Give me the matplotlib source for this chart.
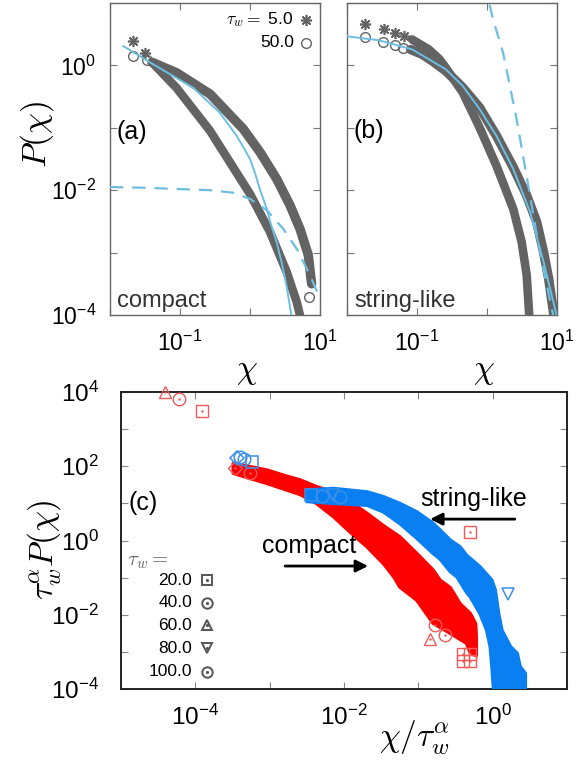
import numpy as np
import matplotlib
matplotlib.use("Agg")
import matplotlib.pyplot as plt
from matplotlib.ticker import FixedLocator, LogFormatterMathtext, NullFormatter

plt.rcParams["font.family"] = ["Liberation Sans", "DejaVu Sans"]
plt.rcParams["mathtext.fontset"] = "cm"

# all values below as log10 (x, y)

# ---- panel (a): compact ----
a_tw5_mark_lx = [-1.667, -1.50]
a_tw5_mark_ly = [0.39, 0.20]
a_tw5_lx = [-1.40, -1.05, -0.57, 0.0, 0.286, 0.524, 0.667, 0.724]
a_tw5_ly = [0.05, -0.36, -1.05, -2.06, -2.67, -3.31, -3.79, -4.05]
a_tw50_mark_lx = [-1.667, -1.476, 0.848]
a_tw50_mark_ly = [0.15, 0.085, -3.71]
a_tw50_lx = [-1.40, -1.05, -0.57, -0.095, 0.143, 0.381, 0.571, 0.714, 0.833, 0.88]
a_tw50_ly = [0.05, -0.117, -0.46, -1.02, -1.39, -1.82, -2.24, -2.62, -3.04, -3.50]
a_fit_lx = [-1.81, -1.38, -0.81, -0.43, -0.19, -0.10, 0.0, 0.07, 0.14, 0.24, 0.30, 0.38, 0.45, 0.52, 0.595]
a_fit_ly = [0.31, 0.016, -0.36, -0.76, -1.13, -1.30, -1.50, -1.72, -1.98, -2.30, -2.55, -2.83, -3.15, -3.52, -4.03]
a_dash_lx = [-2.0, -1.52, -1.05, -0.571, -0.24, 0.0, 0.24, 0.476, 0.667, 0.857, 0.976]
a_dash_ly = [-1.95, -1.96, -1.98, -2.0, -2.04, -2.14, -2.32, -2.62, -2.94, -3.36, -3.68]

# ---- panel (b): string-like ----
b_tw5_mark_lx = [-1.74, -1.476, -1.317, -1.19]
b_tw5_mark_ly = [0.67, 0.585, 0.52, 0.47]
b_tw5_lx = [-1.07, -0.83, -0.68, -0.587, -0.346, -0.106, 0.135, 0.375, 0.495, 0.567, 0.606]
b_tw5_ly = [0.415, 0.255, 0.10, -0.04, -0.436, -0.995, -1.61, -2.30, -2.83, -3.36, -4.05]
b_tw50_mark_lx = [-1.75, -1.486, -1.317, -1.20]
b_tw50_mark_ly = [0.452, 0.372, 0.324, 0.282]
b_tw50_lx = [-1.09, -0.923, -0.78, -0.587, -0.346, -0.106, 0.135, 0.375, 0.567, 0.71, 0.808, 0.88, 0.928, 0.962]
b_tw50_ly = [0.255, 0.176, 0.07, -0.09, -0.356, -0.676, -1.128, -1.633, -2.085, -2.51, -2.99, -3.41, -3.79, -4.05]
b_fit_lx = [-2.03, -1.55, -1.067, -0.587, -0.346, -0.106, 0.135, 0.375, 0.615, 0.808, 1.0]
b_fit_ly = [0.47, 0.404, 0.255, -0.064, -0.33, -0.70, -1.13, -1.66, -2.35, -3.15, -4.03]
b_dash_lx = [0.038, 0.087, 0.159, 0.23, 0.327, 0.423, 0.59, 0.712, 0.808, 0.904, 0.952]
b_dash_ly = [0.973, 0.734, 0.468, 0.20, -0.33, -0.86, -1.93, -2.72, -3.26, -3.79, -4.03]

# ---- panel (c): scaled distributions ----
red_up_lx = [-3.49, -3.04, -2.80, -2.59, -2.37, -2.14, -1.92, -1.69, -1.47, -1.25, -1.02, -0.80, -0.707, -0.57, -0.44, -0.30, -0.23, -0.22]
red_up_ly = [2.08, 1.90, 1.75, 1.63, 1.45, 1.30, 1.05, 0.73, 0.40, 0.10, -0.35, -0.80, -1.07, -1.27, -1.70, -1.97, -2.24, -2.60]
red_lo_lx = [-3.49, -3.04, -2.59, -2.37, -2.14, -1.92, -1.69, -1.47, -1.33, -1.25, -1.02, -0.80, -0.57, -0.35, -0.30, -0.22]
red_lo_ly = [1.81, 1.54, 1.24, 1.00, 0.64, 0.23, -0.17, -0.62, -0.98, -1.25, -1.61, -2.23, -2.50, -2.77, -3.04, -3.10]
blue_up_lx = [-2.50, -2.14, -1.69, -1.47, -1.25, -1.02, -0.80, -0.707, -0.57, -0.44, -0.35, -0.17, -0.01, 0.035, 0.08, 0.125, 0.24, 0.33, 0.37, 0.44, 0.44]
blue_up_ly = [1.36, 1.40, 1.31, 1.18, 1.00, 0.77, 0.46, 0.28, 0.01, -0.17, -0.40, -0.71, -1.07, -1.34, -1.97, -2.42, -2.86, -3.04, -3.40, -3.58, -4.05]
blue_lo_lx = [-2.50, -2.14, -1.69, -1.47, -1.25, -1.02, -0.80, -0.707, -0.57, -0.48, -0.35, -0.30, -0.17, -0.08, -0.033, -0.01, 0.013]
blue_lo_ly = [1.05, 1.00, 0.95, 0.77, 0.46, 0.06, -0.35, -0.50, -0.84, -0.98, -1.40, -1.52, -1.97, -2.42, -2.86, -3.40, -4.05]

# scattered points, red = compact, blue = string-like
red_pts_lx = [-4.41, -4.22, -3.91, -3.47, -3.26, -0.30, -0.84, -0.64, -0.77, -0.40, -0.30, -0.40, -0.30]
red_pts_ly = [4.01, 3.80, 3.50, 1.94, 1.81, 0.23, -2.64, -2.55, -2.28, -3.05, -3.05, -3.25, -3.25]
red_pts_m = ["^", "o", "s", "D", "o", "s", "^", "o", "o", "s", "s", "s", "s"]
blue_pts_lx = [-3.44, -3.40, -3.35, -3.24, -2.45, -2.30, -2.15, -2.05, 0.21]
blue_pts_ly = [2.21, 2.26, 2.19, 2.12, 1.22, 1.20, 1.22, 1.18, -1.43]
blue_pts_m = ["D", "o", "o", "s", "s", "o", "v", "o", "v"]

tau_a = ["5.0", "50.0"]
tau_c = ["20.0", "40.0", "60.0", "80.0", "100.0"]
tau_c_markers = ["s", "o", "^", "v", "o"]

GREY = "#636363"
FIT = "#6cbfe2"
RED = "#ff0000"
BLUE = "#0a7ff2"


def p10(v):
    return 10.0 ** np.asarray(v)


def style_top_axis(ax):
    ax.set_xscale("log")
    ax.set_yscale("log")
    ax.set_xlim(1e-2, 1e1)
    ax.set_ylim(1e-4, 1e1)
    ax.xaxis.set_major_locator(FixedLocator([1e-1, 1e1]))
    ax.xaxis.set_minor_locator(FixedLocator([1e-2, 1e0]))
    ax.yaxis.set_major_locator(FixedLocator([1e-4, 1e-2, 1e0]))
    ax.yaxis.set_minor_locator(FixedLocator([1e-3, 1e-1, 1e1]))
    ax.xaxis.set_major_formatter(LogFormatterMathtext())
    ax.yaxis.set_major_formatter(LogFormatterMathtext())
    ax.xaxis.set_minor_formatter(NullFormatter())
    ax.yaxis.set_minor_formatter(NullFormatter())
    ax.tick_params(which="both", direction="in", top=True, right=True,
                   length=5, width=0.8, color="#777777", labelsize=16.5)
    ax.tick_params(axis="y", pad=10)
    ax.tick_params(axis="x", pad=11)
    for s in ax.spines.values():
        s.set_color("#666666")
        s.set_linewidth(1.0)
    ax.set_xlabel(r"$\chi$", fontsize=24)
    ax.xaxis.set_label_coords(0.65, -0.13)


def draw_top(ax, t5_mx, t5_my, t5_x, t5_y, t50_mx, t50_my, t50_x, t50_y,
             fx, fy, dx, dy):
    ax.plot(p10(dx), p10(dy), color=FIT, lw=1.6, ls=(0, (6, 4)), zorder=4)
    ax.plot(p10(t5_x), p10(t5_y), color=GREY, lw=6.2, solid_capstyle="round",
            solid_joinstyle="round", zorder=2)
    ax.plot(p10(t50_x), p10(t50_y), color=GREY, lw=6.8, solid_capstyle="round",
            solid_joinstyle="round", zorder=2)
    ax.plot(p10(t5_mx), p10(t5_my), ls="none", marker=(8, 2, 0), ms=8,
            mec=GREY, mew=1.2, zorder=3)
    ax.plot(p10(t50_mx), p10(t50_my), ls="none", marker="o", ms=7,
            mfc="none", mec=GREY, mew=1.0, zorder=3)
    ax.plot(p10(fx), p10(fy), color=FIT, lw=1.4, zorder=5)


fig = plt.figure(figsize=(5.8, 7.61), dpi=100)

# panel (a)
ax_a = fig.add_axes([110 / 580, 1 - 315 / 761, 210 / 580, 312 / 761])
style_top_axis(ax_a)
draw_top(ax_a, a_tw5_mark_lx, a_tw5_mark_ly, a_tw5_lx, a_tw5_ly,
         a_tw50_mark_lx, a_tw50_mark_ly, a_tw50_lx, a_tw50_ly,
         a_fit_lx, a_fit_ly, a_dash_lx, a_dash_ly)
ax_a.set_ylabel(r"$P(\chi)$", fontsize=24)
ax_a.yaxis.set_label_coords(-0.255, 0.58)
ax_a.text(0.033, 0.586, "(a)", transform=ax_a.transAxes, fontsize=18,
          va="center", ha="left")
ax_a.text(0.033, 0.025, "compact", transform=ax_a.transAxes, fontsize=17,
          color="#333333", va="baseline", ha="left")
ax_a.text(0.875, 0.946, r"$\tau_w =$ " + tau_a[0], transform=ax_a.transAxes,
          fontsize=12.5, ha="right", va="center")
ax_a.text(0.875, 0.873, tau_a[1], transform=ax_a.transAxes,
          fontsize=12.5, ha="right", va="center")
ax_a.plot([0.935], [0.946], transform=ax_a.transAxes, marker=(8, 2, 0), ms=8,
          mec=GREY, mew=1.2, ls="none")
ax_a.plot([0.935], [0.873], transform=ax_a.transAxes, marker="o", ms=7,
          mfc="none", mec=GREY, mew=1.0, ls="none")

# panel (b)
ax_b = fig.add_axes([347 / 580, 1 - 315 / 761, 210 / 580, 312 / 761])
style_top_axis(ax_b)
ax_b.tick_params(axis="y", labelleft=False)
draw_top(ax_b, b_tw5_mark_lx, b_tw5_mark_ly, b_tw5_lx, b_tw5_ly,
         b_tw50_mark_lx, b_tw50_mark_ly, b_tw50_lx, b_tw50_ly,
         b_fit_lx, b_fit_ly, b_dash_lx, b_dash_ly)
ax_b.text(0.033, 0.589, "(b)", transform=ax_b.transAxes, fontsize=18,
          va="center", ha="left")
ax_b.text(0.033, 0.025, "string-like", transform=ax_b.transAxes, fontsize=17,
          color="#333333", va="baseline", ha="left")

# panel (c)
ax_c = fig.add_axes([121 / 580, 1 - 689 / 761, 446 / 580, 297 / 761])
ax_c.set_xscale("log")
ax_c.set_yscale("log")
ax_c.set_xlim(1e-5, 1e1)
ax_c.set_ylim(1e-4, 1e4)

red_poly_x = np.concatenate([p10(red_up_lx), p10(red_lo_lx)[::-1]])
red_poly_y = np.concatenate([p10(red_up_ly), p10(red_lo_ly)[::-1]])
ax_c.fill(red_poly_x, red_poly_y, color=RED, lw=2.5, ec=RED,
          joinstyle="round", zorder=2)
blue_poly_x = np.concatenate([p10(blue_up_lx), p10(blue_lo_lx)[::-1]])
blue_poly_y = np.concatenate([p10(blue_up_ly), p10(blue_lo_ly)[::-1]])
ax_c.fill(blue_poly_x, blue_poly_y, color=BLUE, lw=2.5, ec=BLUE,
          joinstyle="round", zorder=3)

for lx, ly, m in zip(red_pts_lx, red_pts_ly, red_pts_m):
    ax_c.plot(p10(lx), p10(ly), marker=m, ms=9 if m != "D" else 7, mfc="none",
              mec="#f05a5a", mew=1.0, ls="none", zorder=4, clip_on=False)
    ax_c.plot(p10(lx), p10(ly), marker=".", ms=1.5, color="#f05a5a",
              ls="none", zorder=4, clip_on=False)
for lx, ly, m in zip(blue_pts_lx, blue_pts_ly, blue_pts_m):
    ax_c.plot(p10(lx), p10(ly), marker=m, ms=9 if m != "D" else 7, mfc="none",
              mec="#3b8fe8", mew=1.1, ls="none", zorder=5)

ax_c.xaxis.set_major_locator(FixedLocator([1e-4, 1e-2, 1e0]))
ax_c.xaxis.set_minor_locator(FixedLocator([1e-5, 1e-3, 1e-1, 1e1]))
ax_c.yaxis.set_major_locator(FixedLocator([1e-4, 1e-2, 1e0, 1e2, 1e4]))
ax_c.yaxis.set_minor_locator(FixedLocator([1e-3, 1e-1, 1e1, 1e3]))
ax_c.xaxis.set_major_formatter(LogFormatterMathtext())
ax_c.yaxis.set_major_formatter(LogFormatterMathtext())
ax_c.xaxis.set_minor_formatter(NullFormatter())
ax_c.yaxis.set_minor_formatter(NullFormatter())
ax_c.tick_params(which="both", direction="in", top=True, right=True,
                 length=5, width=0.8, color="#888888", labelsize=17.5)
ax_c.tick_params(axis="y", pad=16)
ax_c.tick_params(axis="x", pad=11)
for s in ax_c.spines.values():
    s.set_color("#222222")
    s.set_linewidth(1.4)

ax_c.set_xlabel(r"$\chi/\tau_w^\alpha$", fontsize=24)
ax_c.xaxis.set_label_coords(0.657, -0.10)
ax_c.set_ylabel(r"$\tau_w^\alpha P(\chi)$", fontsize=24)
ax_c.yaxis.set_label_coords(-0.128, 0.468)

ax_c.text(0.016, 0.626, "(c)", transform=ax_c.transAxes, fontsize=18,
          va="center", ha="left")
ax_c.text(0.316, 0.458, "compact", transform=ax_c.transAxes, fontsize=18,
          va="baseline", ha="left")
ax_c.text(0.670, 0.616, "string-like", transform=ax_c.transAxes, fontsize=18,
          va="baseline", ha="left")
ax_c.annotate("", xy=(0.554, 0.414), xytext=(0.368, 0.414),
              xycoords="axes fraction",
              arrowprops=dict(arrowstyle="-|>", color="black", lw=2,
                              mutation_scale=18, shrinkA=0, shrinkB=0))
ax_c.annotate("", xy=(0.693, 0.572), xytext=(0.883, 0.572),
              xycoords="axes fraction",
              arrowprops=dict(arrowstyle="-|>", color="black", lw=2,
                              mutation_scale=18, shrinkA=0, shrinkB=0))

# tau_w key
ax_c.text(0.013, 0.428, r"$\tau_w =$", transform=ax_c.transAxes, fontsize=15,
          color="#666666", va="center", ha="left")
key_y = [0.367, 0.291, 0.215, 0.137, 0.058]
for lab, m, yy in zip(tau_c, tau_c_markers, key_y):
    ax_c.text(0.159, yy, lab, transform=ax_c.transAxes, fontsize=12.5,
              va="center", ha="right")
    ax_c.plot([0.193], [yy], transform=ax_c.transAxes, marker=m, ms=7.5,
              mfc="none", mec="#555555", mew=1.4, ls="none")
    ax_c.plot([0.193], [yy], transform=ax_c.transAxes, marker=".", ms=2.5,
              color="#555555", ls="none")

fig.savefig("out.png", dpi=100)
